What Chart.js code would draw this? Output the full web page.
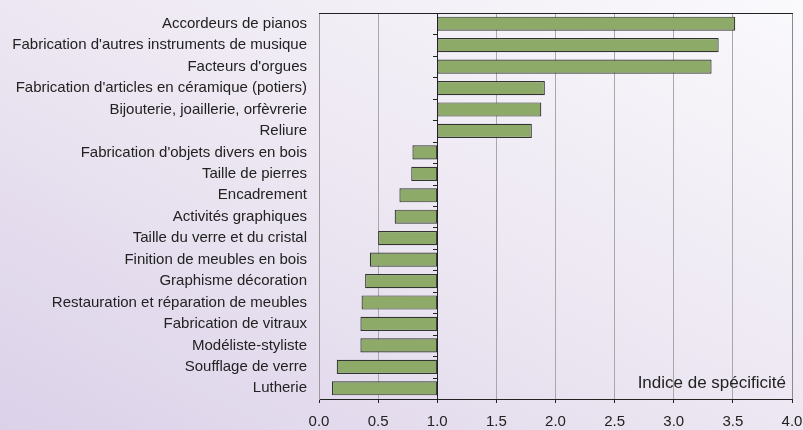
<!DOCTYPE html>
<html>
<head>
<meta charset="utf-8">
<script src="https://cdn.jsdelivr.net/npm/chart.js@4/dist/chart.umd.min.js"></script>
<style>
  html, body { margin: 0; padding: 0; }
  body {
    width: 803px;
    height: 430px;
    background: linear-gradient(to top right, #dbd1e9 0%, #ebe5f1 45%, #faf9fc 100%);
  }
  #wrap { position: relative; width: 803px; height: 430px; }
</style>
</head>
<body>
<div id="wrap"><canvas id="chartSpec" width="803" height="430"></canvas></div>
<script>
const labelsMetiers = [
  "Accordeurs de pianos",
  "Fabrication d'autres instruments de musique",
  "Facteurs d'orgues",
  "Fabrication d'articles en céramique (potiers)",
  "Bijouterie, joaillerie, orfèvrerie",
  "Reliure",
  "Fabrication d'objets divers en bois",
  "Taille de pierres",
  "Encadrement",
  "Activités graphiques",
  "Taille du verre et du cristal",
  "Finition de meubles en bois",
  "Graphisme décoration",
  "Restauration et réparation de meubles",
  "Fabrication de vitraux",
  "Modéliste-styliste",
  "Soufflage de verre",
  "Lutherie",
];
const indiceSpec = [
  3.52, 3.38, 3.32, 1.91, 1.88, 1.80, 0.79, 0.78, 0.68,
  0.64, 0.50, 0.43, 0.39, 0.36, 0.35, 0.35, 0.15, 0.11,
];
const baseValue = 1.0;
const xTicks = [0, 0.5, 1, 1.5, 2, 2.5, 3, 3.5, 4];
const axisTitle = "Indice de spécificité";

const fontFamily = "'Liberation Sans', Arial, sans-serif";
const textColor = "#222222";

// axe vertical posé sur 1.0, bord haut et titre d'axe
const refAxisPlugin = {
  id: "refAxis",
  afterDraw(chart) {
    const { ctx, chartArea, scales } = chart;
    const x1 = Math.round(scales.x.getPixelForValue(baseValue));
    const top = Math.round(chartArea.top);
    ctx.save();
    ctx.fillStyle = "#222222";
    ctx.fillRect(x1, top, 1, Math.round(chartArea.bottom) - top);
    for (let i = 0; i <= labelsMetiers.length; i++) {
      const y = Math.round(scales.y.getPixelForValue(i - 0.5));
      ctx.fillRect(x1 - 4, y, 4, 1);
    }
    ctx.fillRect(Math.round(chartArea.left), top, Math.round(chartArea.right - chartArea.left) + 1, 1);

    ctx.fillStyle = textColor;
    ctx.font = "17px " + fontFamily;
    ctx.textAlign = "right";
    ctx.textBaseline = "alphabetic";
    ctx.fillText(axisTitle, chartArea.right - 6, chartArea.bottom - 11);
    ctx.restore();
  },
};

const dataSpec = {
  labels: labelsMetiers,
  datasets: [
    {
      label: axisTitle,
      data: indiceSpec.map((v) => [baseValue, v]),
      backgroundColor: "#8daa68",
      borderColor: "#333333",
      borderWidth: 1.2,
      borderSkipped: false,
      categoryPercentage: 1.0,
      barPercentage: 0.66,
    },
  ],
};

const configSpec = {
  type: "bar",
  data: dataSpec,
  options: {
    indexAxis: "y",
    responsive: false,
    animation: false,
    layout: { padding: { top: 13, right: 11, left: 0, bottom: 0 } },
    plugins: {
      legend: { display: false },
      tooltip: { enabled: false },
    },
    scales: {
      x: {
        min: 0,
        max: 4,
        afterBuildTicks(scale) {
          scale.ticks = xTicks.map((v) => ({ value: v }));
        },
        afterFit(scale) {
          scale.height = 31;
          scale.paddingLeft = 0;
          scale.paddingRight = 0;
        },
        ticks: {
          color: textColor,
          font: { family: fontFamily, size: 15 },
          padding: 10,
          maxRotation: 0,
          callback: (v) => Number(v).toFixed(1),
        },
        grid: {
          color: (c) => (c.index === 8 ? "#8a8a8a" : "#a8a8a8"),
          tickColor: "#222222",
          tickLength: 4,
          lineWidth: 1,
        },
        border: { color: "#222222", width: 1 },
      },
      y: {
        afterFit(scale) {
          scale.width = 319;
          scale.paddingTop = 0;
          scale.paddingBottom = 0;
        },
        ticks: {
          color: textColor,
          font: { family: fontFamily, size: 15 },
          padding: 12,
          autoSkip: false,
        },
        grid: { display: false, drawTicks: false },
        border: { color: "#9a9a9a", width: 1 },
      },
    },
  },
  plugins: [refAxisPlugin],
};

let chartSpec = new Chart(document.getElementById("chartSpec"), configSpec);
</script>
</body>
</html>
